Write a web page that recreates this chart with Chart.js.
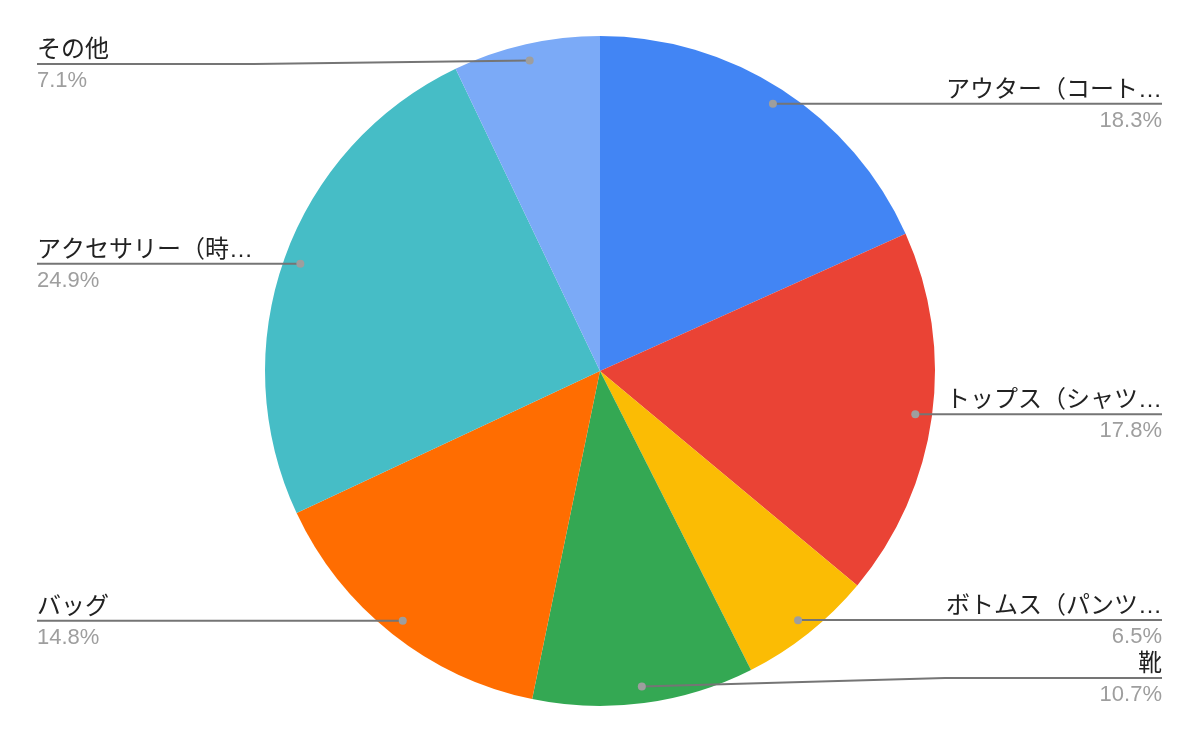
<!DOCTYPE html>
<html>
  <head>
    <meta charset="utf-8">
    <title>Pie</title>
    <style>
      html, body { margin: 0; padding: 0; background: #fff; }
      #wrap { width: 1200px; height: 742px; }
    </style>
  </head>
  <body>
    <div id="wrap"><canvas id="chart" width="1200" height="742"></canvas></div>
    <script src="https://cdn.jsdelivr.net/npm/chart.js"></script>
    <script>
      // categories and shares (%)
      const categories = ['アウター（コート…', 'トップス（シャツ…', 'ボトムス（パンツ…', '靴', 'バッグ', 'アクセサリー（時…', 'その他'];
      const shares = [18.3, 17.8, 6.5, 10.7, 14.8, 24.9, 7.1];
      const sliceColors = ['#4285f4', '#ea4335', '#fbbc04', '#34a853', '#ff6d01', '#46bdc6', '#7baaf7'];

      const FONT = '"Liberation Sans", "Noto Sans CJK JP", sans-serif';

      // leader lines + two-line labels, google sheets style
      const sideLabels = {
        id: 'sideLabels',
        afterDraw(chart) {
          const ctx = chart.ctx;
          const meta = chart.getDatasetMeta(0);
          const leftX = 37, rightX = 1162;
          const minY = 64, maxY = 678, gap = 58;
          const items = meta.data.map((arc, i) => {
            const p = arc.getProps(['x', 'y', 'startAngle', 'endAngle', 'outerRadius'], true);
            const mid = (p.startAngle + p.endAngle) / 2;
            const r = p.outerRadius * 0.95;
            const dx = p.x + Math.cos(mid) * r;
            const dy = p.y + Math.sin(mid) * r;
            return { i, dx, dy, right: dx >= p.x, ly: Math.min(maxY, Math.max(minY, dy)) };
          });
          // keep labels on the same side apart
          [true, false].forEach(side => {
            const list = items.filter(o => o.right === side).sort((a, b) => a.ly - b.ly);
            for (let k = 1; k < list.length; k++) {
              if (list[k].ly - list[k - 1].ly < gap) list[k].ly = list[k - 1].ly + gap;
            }
            for (let k = list.length - 1; k >= 0; k--) {
              if (list[k].ly > maxY) list[k].ly = maxY;
              if (k > 0 && list[k].ly - list[k - 1].ly < gap) list[k - 1].ly = list[k].ly - gap;
            }
          });

          ctx.save();
          items.forEach(o => {
            const edge = o.right ? rightX : leftX;
            const bendX = o.right ? edge - 217 : edge + 217;
            ctx.strokeStyle = '#757575';
            ctx.lineWidth = 2;
            ctx.beginPath();
            ctx.moveTo(o.dx, o.dy);
            if (Math.abs(o.ly - o.dy) > 1) ctx.lineTo(bendX, o.ly);
            else ctx.lineTo(o.dx, o.ly);
            ctx.lineTo(edge, o.ly);
            ctx.stroke();

            ctx.fillStyle = '#9e9e9e';
            ctx.beginPath();
            ctx.arc(o.dx, o.dy, 4, 0, Math.PI * 2);
            ctx.fill();

            ctx.textAlign = o.right ? 'right' : 'left';
            ctx.textBaseline = 'alphabetic';
            ctx.font = '24px ' + FONT;
            ctx.fillStyle = '#222222';
            ctx.fillText(categories[o.i], edge, o.ly - 7);
            ctx.font = '22px ' + FONT;
            ctx.fillStyle = '#9e9e9e';
            ctx.fillText(shares[o.i].toFixed(1) + '%', edge, o.ly + 23);
          });
          ctx.restore();
        }
      };

      new Chart(document.getElementById('chart'), {
        type: 'pie',
        data: {
          labels: categories,
          datasets: [{
            data: shares,
            backgroundColor: sliceColors,
            borderWidth: 0
          }]
        },
        options: {
          responsive: false,
          animation: false,
          layout: { padding: { top: 36, bottom: 36, left: 0, right: 0 } },
          plugins: {
            legend: { display: false },
            tooltip: { enabled: false }
          }
        },
        plugins: [sideLabels]
      });
    </script>
  </body>
</html>
